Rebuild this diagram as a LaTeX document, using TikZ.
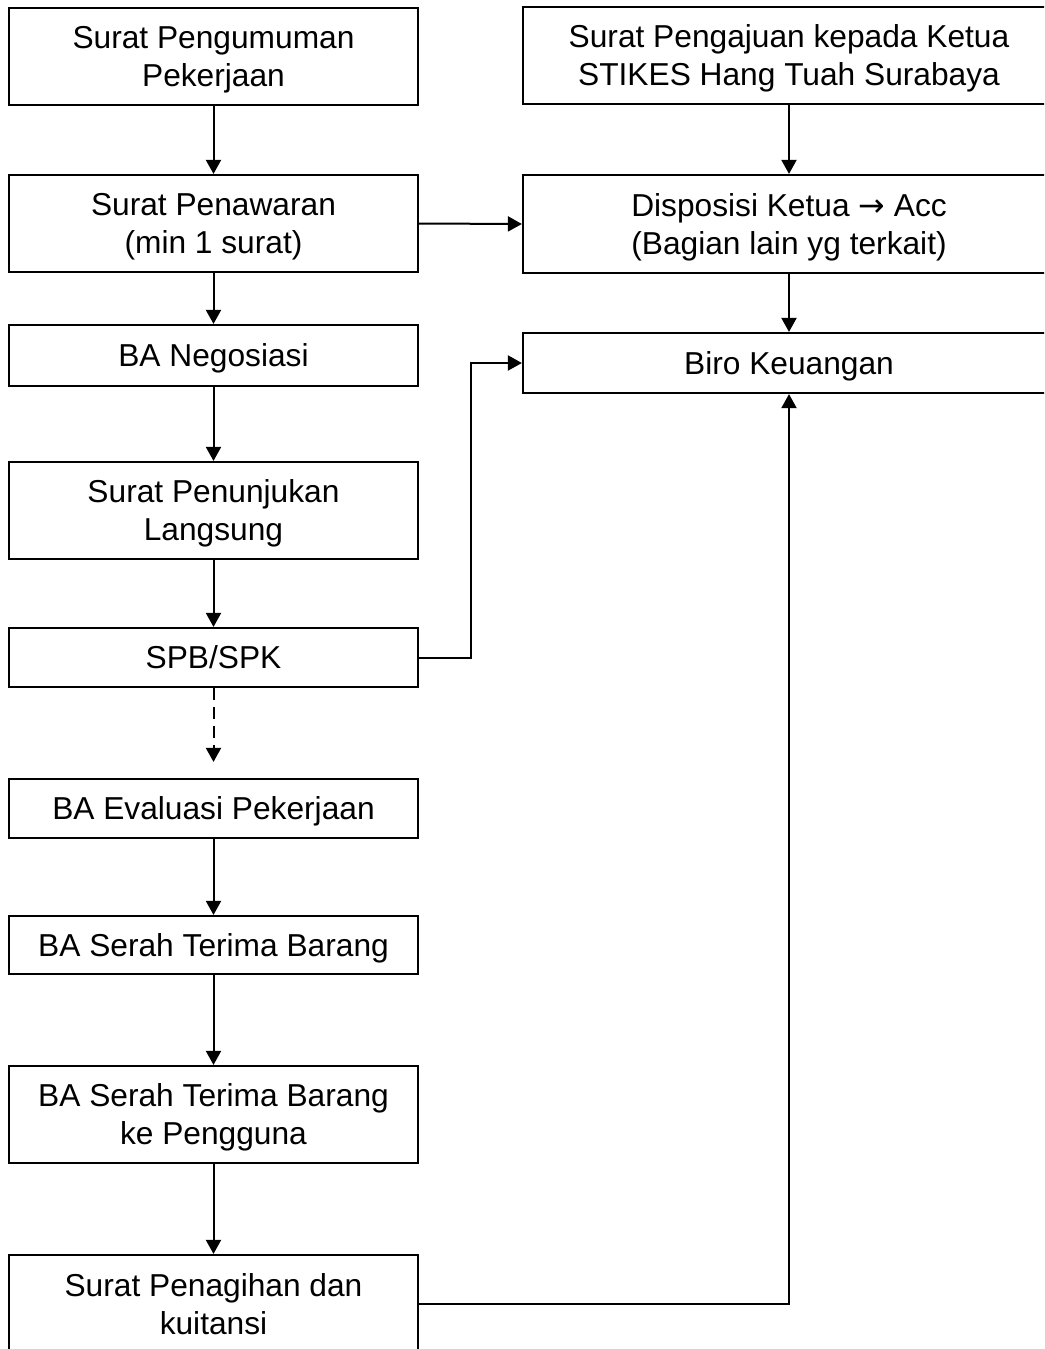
\documentclass[tikz,border=0pt]{standalone}
\usepackage{fontspec}
\setmainfont{Liberation Sans}
\newfontfamily\arrowfont{DejaVu Sans}
\usetikzlibrary{arrows.meta}
\begin{document}
\begin{tikzpicture}[x=1pt,y=-1pt,
  box/.style={draw=black, line width=2.2pt, fill=white, inner sep=0pt,
    text depth=0pt, align=center, font=\fontsize{31.7}{38}\selectfont},
  lbox/.style={box, minimum width=409pt},
  rbox/.style={box, minimum width=532pt},
  flow/.style={line width=2pt, -{Triangle[length=14pt,width=15pt]}},
]
\clip (0,0) rectangle (1044,1349);
\fill[white] (0,0) rectangle (1044,1349);

% left column
\node[lbox, minimum height=97pt] (b1) at (213.5,56.5) {Surat Pengumuman\\Pekerjaan};
\node[lbox, minimum height=97pt] (b2) at (213.5,223.5) {Surat Penawaran\\(min 1 surat)};
\node[lbox, minimum height=61pt] (b3) at (213.5,355.5) {BA Negosiasi};
\node[lbox, minimum height=97pt] (b4) at (213.5,510.5) {Surat Penunjukan\\Langsung};
\node[lbox, minimum height=59pt] (b5) at (213.5,657.5) {SPB/SPK};
\node[lbox, minimum height=59pt] (b6) at (213.5,808.5) {BA Evaluasi Pekerjaan};
\node[lbox, minimum height=58pt] (b7) at (213.5,945) {BA Serah Terima Barang};
\node[lbox, minimum height=97pt] (b8) at (213.5,1114.5) {BA Serah Terima Barang\\ke Pengguna};
\node[lbox, minimum height=97pt] (b9) at (213.5,1303.5) {Surat Penagihan dan\\kuitansi};

% right column
\node[rbox, minimum height=97pt] (r1) at (789,55.5) {Surat Pengajuan kepada Ketua\\STIKES Hang Tuah Surabaya};
\node[rbox, minimum height=98pt] (r2) at (789,224) {Disposisi Ketua {\arrowfont →} Acc\\(Bagian lain yg terkait)};
\node[rbox, minimum height=60pt] (r3) at (789,363) {Biro Keuangan};

% connectors
\draw[flow] (b1) -- (b2);
\draw[flow] (b2) -- (b3);
\draw[flow] (b3) -- (b4);
\draw[flow] (b4) -- (b5);
\draw[flow, dash pattern=on 12pt off 7pt, shorten >=16pt] (b5) -- (b6);
\draw[flow] (b6) -- (b7);
\draw[flow] (b7) -- (b8);
\draw[flow] (b8) -- (b9);

\draw[flow] (b2.east) -- (r2.west);
\draw[flow] (r1) -- (r2);
\draw[flow] (r2) -- (r3);
\draw[flow] (b5.east) -- ++(52,0) |- (r3.west);
\draw[flow] (b9.east) -| (r3.south);
\end{tikzpicture}
\end{document}
